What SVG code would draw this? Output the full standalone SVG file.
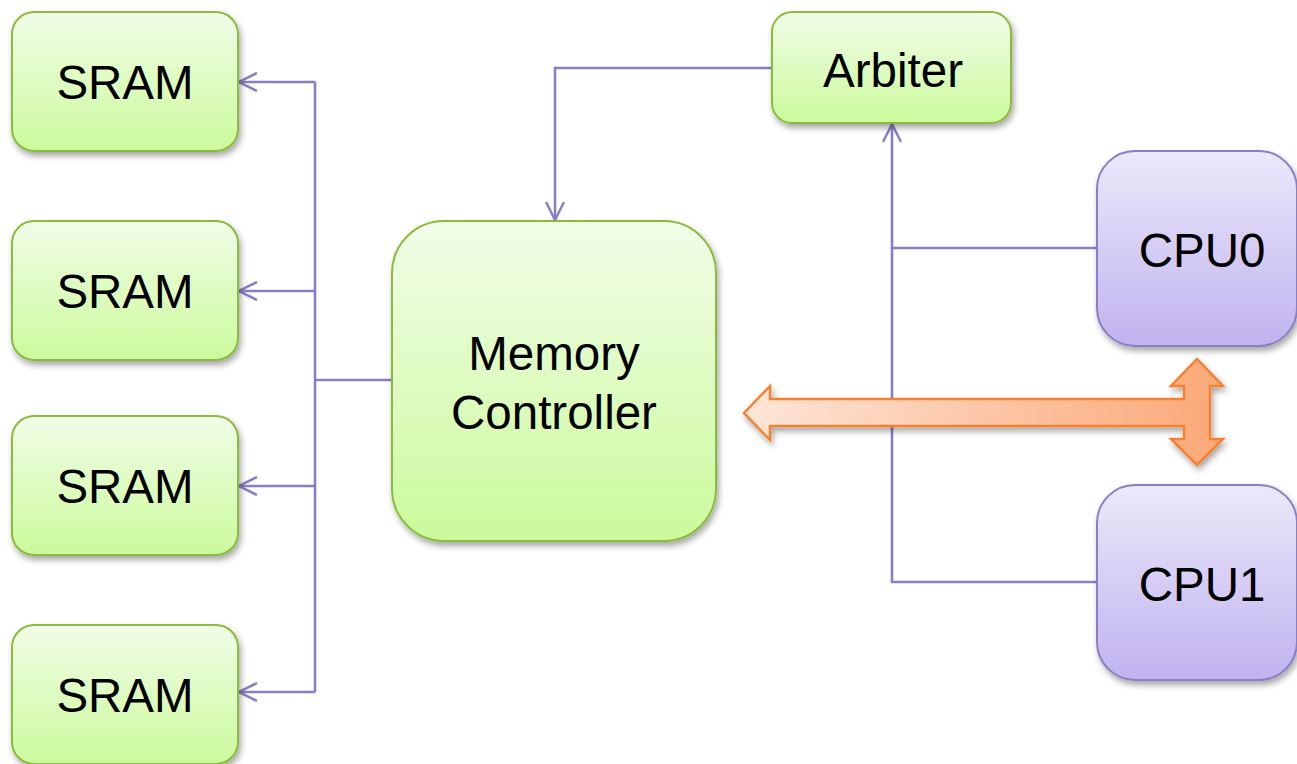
<svg xmlns="http://www.w3.org/2000/svg" width="1297" height="764" viewBox="0 0 1297 764">
  <defs>
    <linearGradient id="gGreen" x1="0" y1="0" x2="0" y2="1">
      <stop offset="0" stop-color="#f1fde8"/>
      <stop offset="1" stop-color="#cbfa9b"/>
    </linearGradient>
    <linearGradient id="gPurple" x1="0" y1="0" x2="0" y2="1">
      <stop offset="0" stop-color="#ece8fa"/>
      <stop offset="1" stop-color="#c0b3ef"/>
    </linearGradient>
    <linearGradient id="gOrange" x1="743" y1="0" x2="1224" y2="0" gradientUnits="userSpaceOnUse">
      <stop offset="0" stop-color="#fde6d8"/>
      <stop offset="1" stop-color="#fba877"/>
    </linearGradient>
    <filter id="shadow" x="-20%" y="-20%" width="140%" height="150%">
      <feDropShadow dx="2" dy="4" stdDeviation="3" flood-color="#000" flood-opacity="0.35"/>
    </filter>
    <marker id="open" viewBox="0 0 20 20" refX="19" refY="10" markerWidth="20" markerHeight="20" markerUnits="userSpaceOnUse" orient="auto">
      <path d="M1,1 L19,10 L1,19" fill="none" stroke="#8a7dc6" stroke-width="2.5"/>
    </marker>
  </defs>
  <style>
    .green { fill: url(#gGreen); stroke: #8bbb3c; stroke-width: 2; filter: url(#shadow); }
    .purple { fill: url(#gPurple); stroke: #8b7ec4; stroke-width: 2; filter: url(#shadow); }
    .label { font-family: "Liberation Sans", Arial, sans-serif; font-size: 47.5px; fill: #000; text-anchor: middle; }
    .wire { fill: none; stroke: #8a7dc6; stroke-width: 2.6; }
    .arrow { stroke-linejoin: miter; }
  </style>

  <!-- signal wires -->
  <g id="connectors">
    <!-- memory controller to SRAM bus -->
    <path class="wire" d="M392,380 H315"/>
    <path class="wire" d="M315,82 V692"/>
    <path class="wire" d="M315,82 H239" marker-end="url(#open)"/>
    <path class="wire" d="M315,291 H239" marker-end="url(#open)"/>
    <path class="wire" d="M315,486 H239" marker-end="url(#open)"/>
    <path class="wire" d="M315,692 H239" marker-end="url(#open)"/>
    <!-- arbiter to memory controller -->
    <path class="wire" d="M772,68 H555 V220" marker-end="url(#open)"/>
    <!-- CPUs to arbiter -->
    <path class="wire" d="M1097,582 H892 V124" marker-end="url(#open)"/>
    <path class="wire" d="M1097,248 H892"/>
    <!-- data bus -->
    <path class="arrow" d="M744,413 L770,386 L770,399 L1184,399 L1184,386 L1171,386 L1197,359 L1223,386 L1210,386 L1210,439 L1223,439 L1197,465 L1171,439 L1184,439 L1184,426 L770,426 L770,440 Z" fill="url(#gOrange)" stroke="#f5812f" stroke-width="2.5" filter="url(#shadow)"/>
  </g>

  <g id="sram0">
    <rect class="green" x="12" y="12" width="226" height="139" rx="22"/>
    <text class="label" x="125" y="99">SRAM</text>
  </g>
  <g id="sram1">
    <rect class="green" x="12" y="221" width="226" height="139" rx="22"/>
    <text class="label" x="125" y="308">SRAM</text>
  </g>
  <g id="sram2">
    <rect class="green" x="12" y="416" width="226" height="139" rx="22"/>
    <text class="label" x="125" y="503">SRAM</text>
  </g>
  <g id="sram3">
    <rect class="green" x="12" y="625" width="226" height="139" rx="22"/>
    <text class="label" x="125" y="712">SRAM</text>
  </g>

  <g id="memory-controller">
    <rect class="green" x="392" y="221" width="324" height="320" rx="52"/>
    <text class="label" x="554" y="370">Memory</text>
    <text class="label" x="554" y="429">Controller</text>
  </g>

  <g id="arbiter">
    <rect class="green" x="772" y="12" width="239" height="111" rx="20"/>
    <text class="label" x="893" y="87">Arbiter</text>
  </g>

  <g id="cpu0">
    <rect class="purple" x="1097" y="151" width="200" height="195" rx="38"/>
    <text class="label" x="1202" y="267">CPU0</text>
  </g>
  <g id="cpu1">
    <rect class="purple" x="1097" y="485" width="200" height="195" rx="38"/>
    <text class="label" x="1202" y="601">CPU1</text>
  </g>
</svg>
